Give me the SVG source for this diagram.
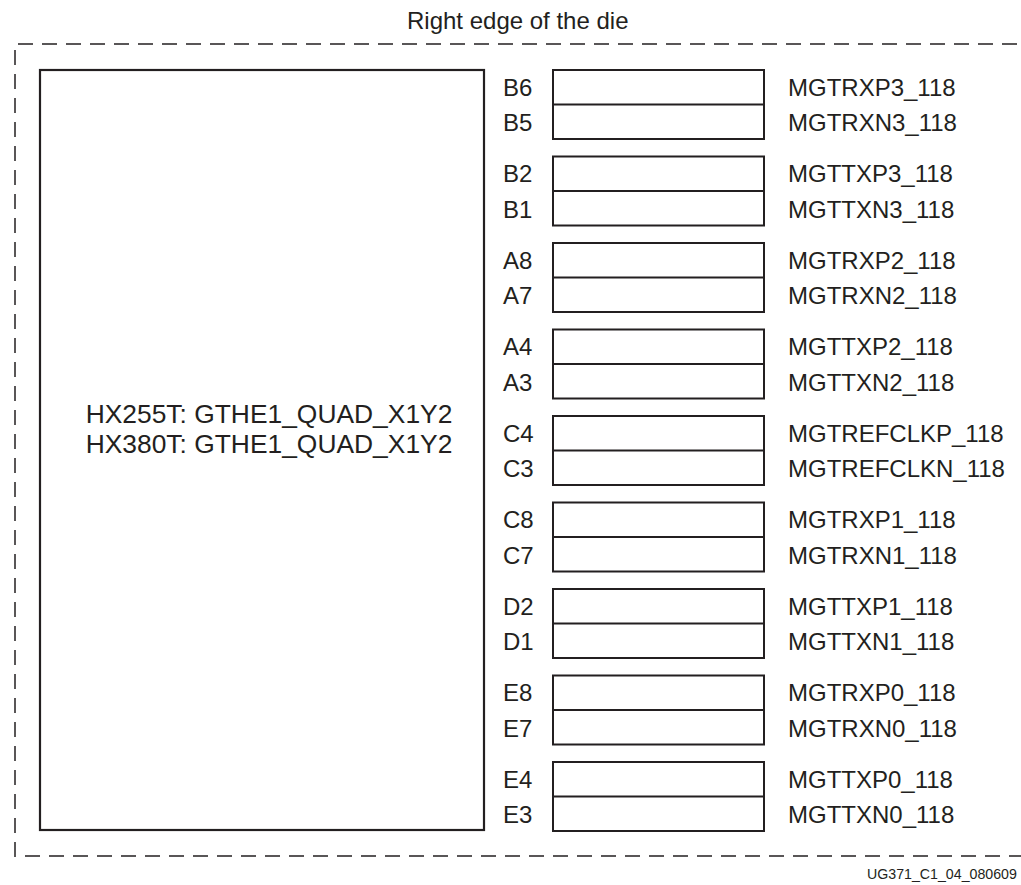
<svg xmlns="http://www.w3.org/2000/svg" width="1021" height="885" viewBox="0 0 1021 885">
<style>
text{font-family:"Liberation Sans",Arial,Helvetica,sans-serif;fill:#231f20}
.lbl{font-size:24px}
.big{font-size:26.4px}
.cap{font-size:14.2px}
.pin{fill:#fff;stroke:#231f20;stroke-width:2}
.div{stroke:#231f20;stroke-width:2}
.dash{fill:none;stroke:#231f20;stroke-width:1.5;stroke-dasharray:15 9}
</style>
<rect width="1021" height="885" fill="#fff"/>
<g id="die-edge">
<line class="dash" x1="18" y1="44" x2="1021" y2="44"/>
<line class="dash" x1="15" y1="50" x2="15" y2="857"/>
<line class="dash" x1="25" y1="856" x2="1021" y2="856"/>
<text class="lbl" x="407" y="29">Right edge of the die</text>
</g>
<g id="quad">
<rect x="40" y="70" width="444" height="760" fill="#fff" stroke="#231f20" stroke-width="2.2"/>
<text class="big" text-anchor="middle"><tspan x="269" y="423">HX255T: GTHE1_QUAD_X1Y2</tspan><tspan x="269" y="453">HX380T: GTHE1_QUAD_X1Y2</tspan></text>
</g>
<g id="pins-B6-B5">
<rect class="pin" x="553" y="70" width="211" height="69"/><line class="div" x1="553" y1="104.5" x2="764" y2="104.5"/>
<text class="lbl" x="503" y="95.5">B6</text><text class="lbl" x="503" y="131">B5</text>
<text class="lbl" x="788" y="95.5">MGTRXP3_118</text><text class="lbl" x="788" y="131">MGTRXN3_118</text>
</g>
<g id="pins-B2-B1">
<rect class="pin" x="553" y="156.5" width="211" height="69"/><line class="div" x1="553" y1="191" x2="764" y2="191"/>
<text class="lbl" x="503" y="182">B2</text><text class="lbl" x="503" y="217.5">B1</text>
<text class="lbl" x="788" y="182">MGTTXP3_118</text><text class="lbl" x="788" y="217.5">MGTTXN3_118</text>
</g>
<g id="pins-A8-A7">
<rect class="pin" x="553" y="243" width="211" height="69"/><line class="div" x1="553" y1="277.5" x2="764" y2="277.5"/>
<text class="lbl" x="503" y="268.5">A8</text><text class="lbl" x="503" y="304">A7</text>
<text class="lbl" x="788" y="268.5">MGTRXP2_118</text><text class="lbl" x="788" y="304">MGTRXN2_118</text>
</g>
<g id="pins-A4-A3">
<rect class="pin" x="553" y="329.5" width="211" height="69"/><line class="div" x1="553" y1="364" x2="764" y2="364"/>
<text class="lbl" x="503" y="355">A4</text><text class="lbl" x="503" y="390.5">A3</text>
<text class="lbl" x="788" y="355">MGTTXP2_118</text><text class="lbl" x="788" y="390.5">MGTTXN2_118</text>
</g>
<g id="pins-C4-C3">
<rect class="pin" x="553" y="416" width="211" height="69"/><line class="div" x1="553" y1="450.5" x2="764" y2="450.5"/>
<text class="lbl" x="503" y="441.5">C4</text><text class="lbl" x="503" y="477">C3</text>
<text class="lbl" x="788" y="441.5">MGTREFCLKP_118</text><text class="lbl" x="788" y="477">MGTREFCLKN_118</text>
</g>
<g id="pins-C8-C7">
<rect class="pin" x="553" y="502.5" width="211" height="69"/><line class="div" x1="553" y1="537" x2="764" y2="537"/>
<text class="lbl" x="503" y="528">C8</text><text class="lbl" x="503" y="563.5">C7</text>
<text class="lbl" x="788" y="528">MGTRXP1_118</text><text class="lbl" x="788" y="563.5">MGTRXN1_118</text>
</g>
<g id="pins-D2-D1">
<rect class="pin" x="553" y="589" width="211" height="69"/><line class="div" x1="553" y1="623.5" x2="764" y2="623.5"/>
<text class="lbl" x="503" y="614.5">D2</text><text class="lbl" x="503" y="650">D1</text>
<text class="lbl" x="788" y="614.5">MGTTXP1_118</text><text class="lbl" x="788" y="650">MGTTXN1_118</text>
</g>
<g id="pins-E8-E7">
<rect class="pin" x="553" y="675.5" width="211" height="69"/><line class="div" x1="553" y1="710" x2="764" y2="710"/>
<text class="lbl" x="503" y="701">E8</text><text class="lbl" x="503" y="736.5">E7</text>
<text class="lbl" x="788" y="701">MGTRXP0_118</text><text class="lbl" x="788" y="736.5">MGTRXN0_118</text>
</g>
<g id="pins-E4-E3">
<rect class="pin" x="553" y="762" width="211" height="69"/><line class="div" x1="553" y1="796.5" x2="764" y2="796.5"/>
<text class="lbl" x="503" y="787.5">E4</text><text class="lbl" x="503" y="823">E3</text>
<text class="lbl" x="788" y="787.5">MGTTXP0_118</text><text class="lbl" x="788" y="823">MGTTXN0_118</text>
</g>
<g id="connectors"></g>
<text class="cap" x="867" y="879">UG371_C1_04_080609</text>
</svg>
